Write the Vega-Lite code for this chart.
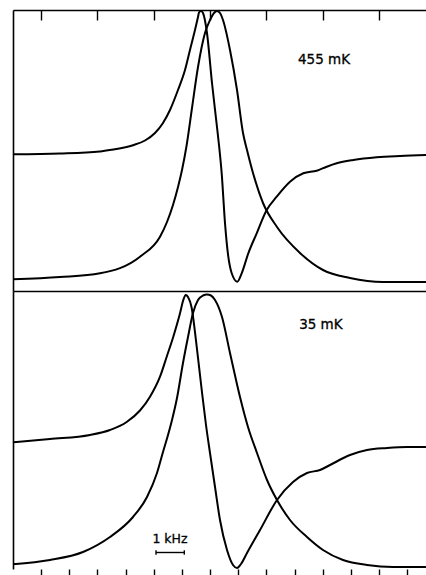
{
  "$schema": "https://vega.github.io/schema/vega-lite/v6.json",
  "background": "white",
  "padding": {"left": 9, "top": 6, "right": 0, "bottom": 0},
  "spacing": 0,
  "bounds": "flush",
  "config": {
    "view": {"stroke": null},
    "axis": {"grid": false, "labels": false, "title": null, "domainColor": "black", "tickColor": "black", "domainWidth": 1.6, "tickWidth": 1.4, "minExtent": 0, "maxExtent": 0, "offset": 0}
  },
  "datasets": {
    "top": [
      {"curve": "D", "f": 0, "v": 136.7}, {"curve": "D", "f": 1.669, "v": 137.5}, {"curve": "D", "f": 3.089, "v": 139.5},
      {"curve": "D", "f": 3.515, "v": 141.3}, {"curve": "D", "f": 4.261, "v": 145.8}, {"curve": "D", "f": 4.687, "v": 150.5},
      {"curve": "D", "f": 5.042, "v": 158}, {"curve": "D", "f": 5.326, "v": 168}, {"curve": "D", "f": 5.574, "v": 181},
      {"curve": "D", "f": 5.858, "v": 201}, {"curve": "D", "f": 6.107, "v": 221}, {"curve": "D", "f": 6.284, "v": 241},
      {"curve": "D", "f": 6.462, "v": 261}, {"curve": "D", "f": 6.569, "v": 274}, {"curve": "D", "f": 6.604, "v": 278.5},
      {"curve": "D", "f": 6.675, "v": 280}, {"curve": "D", "f": 6.746, "v": 278}, {"curve": "D", "f": 6.888, "v": 258},
      {"curve": "D", "f": 7.066, "v": 208}, {"curve": "D", "f": 7.243, "v": 164}, {"curve": "D", "f": 7.314, "v": 146},
      {"curve": "D", "f": 7.41, "v": 117.7}, {"curve": "D", "f": 7.528, "v": 67.7}, {"curve": "D", "f": 7.645, "v": 34.3},
      {"curve": "D", "f": 7.766, "v": 17.7}, {"curve": "D", "f": 7.962, "v": 9.3}, {"curve": "D", "f": 8.12, "v": 17.7},
      {"curve": "D", "f": 8.355, "v": 37.7}, {"curve": "D", "f": 8.653, "v": 57.7}, {"curve": "D", "f": 9.008, "v": 81},
      {"curve": "D", "f": 9.363, "v": 94.3}, {"curve": "D", "f": 9.836, "v": 109.3}, {"curve": "D", "f": 10.308, "v": 117.7},
      {"curve": "D", "f": 10.784, "v": 120.3}, {"curve": "D", "f": 11.139, "v": 124.3}, {"curve": "D", "f": 11.494, "v": 127.7},
      {"curve": "D", "f": 12.083, "v": 131}, {"curve": "D", "f": 12.914, "v": 133.7}, {"curve": "D", "f": 13.742, "v": 135},
      {"curve": "D", "f": 14.7, "v": 136},
      {"curve": "A", "f": 0, "v": 11.7}, {"curve": "A", "f": 1.669, "v": 14}, {"curve": "A", "f": 3.089, "v": 17.7},
      {"curve": "A", "f": 4.509, "v": 34.3}, {"curve": "A", "f": 5.22, "v": 54.3}, {"curve": "A", "f": 5.468, "v": 69},
      {"curve": "A", "f": 5.681, "v": 86}, {"curve": "A", "f": 5.859, "v": 104}, {"curve": "A", "f": 6.001, "v": 121},
      {"curve": "A", "f": 6.161, "v": 145}, {"curve": "A", "f": 6.356, "v": 183}, {"curve": "A", "f": 6.569, "v": 224},
      {"curve": "A", "f": 6.817, "v": 258}, {"curve": "A", "f": 6.995, "v": 271}, {"curve": "A", "f": 7.137, "v": 278},
      {"curve": "A", "f": 7.243, "v": 280}, {"curve": "A", "f": 7.35, "v": 278}, {"curve": "A", "f": 7.456, "v": 271},
      {"curve": "A", "f": 7.705, "v": 241}, {"curve": "A", "f": 7.954, "v": 201}, {"curve": "A", "f": 8.167, "v": 158},
      {"curve": "A", "f": 8.309, "v": 141}, {"curve": "A", "f": 8.522, "v": 118}, {"curve": "A", "f": 8.877, "v": 88},
      {"curve": "A", "f": 9.374, "v": 64}, {"curve": "A", "f": 10.191, "v": 38}, {"curve": "A", "f": 11.007, "v": 21},
      {"curve": "A", "f": 11.966, "v": 13}, {"curve": "A", "f": 13.138, "v": 9}, {"curve": "A", "f": 14.7, "v": 9}
    ],
    "bottom": [
      {"curve": "D", "f": 0, "v": 126.7}, {"curve": "D", "f": 1.314, "v": 130}, {"curve": "D", "f": 2.734, "v": 134},
      {"curve": "D", "f": 3.444, "v": 139}, {"curve": "D", "f": 4.037, "v": 147}, {"curve": "D", "f": 4.509, "v": 158.5},
      {"curve": "D", "f": 4.865, "v": 172.3}, {"curve": "D", "f": 5.22, "v": 192.3}, {"curve": "D", "f": 5.458, "v": 212.3},
      {"curve": "D", "f": 5.692, "v": 232.3}, {"curve": "D", "f": 5.93, "v": 255.7}, {"curve": "D", "f": 6.047, "v": 269},
      {"curve": "D", "f": 6.132, "v": 274}, {"curve": "D", "f": 6.214, "v": 272}, {"curve": "D", "f": 6.338, "v": 262},
      {"curve": "D", "f": 6.516, "v": 224}, {"curve": "D", "f": 6.693, "v": 181}, {"curve": "D", "f": 6.853, "v": 144},
      {"curve": "D", "f": 6.995, "v": 116}, {"curve": "D", "f": 7.173, "v": 82}, {"curve": "D", "f": 7.35, "v": 49},
      {"curve": "D", "f": 7.599, "v": 19}, {"curve": "D", "f": 7.812, "v": 4}, {"curve": "D", "f": 7.954, "v": 1},
      {"curve": "D", "f": 8.096, "v": 5}, {"curve": "D", "f": 8.309, "v": 16}, {"curve": "D", "f": 8.771, "v": 39},
      {"curve": "D", "f": 9.374, "v": 69}, {"curve": "D", "f": 9.942, "v": 87}, {"curve": "D", "f": 10.439, "v": 96},
      {"curve": "D", "f": 10.901, "v": 99}, {"curve": "D", "f": 11.256, "v": 104}, {"curve": "D", "f": 11.966, "v": 114},
      {"curve": "D", "f": 12.57, "v": 119}, {"curve": "D", "f": 13.28, "v": 121}, {"curve": "D", "f": 13.99, "v": 122},
      {"curve": "D", "f": 14.7, "v": 122},
      {"curve": "A", "f": 0, "v": 4.7}, {"curve": "A", "f": 1.314, "v": 9}, {"curve": "A", "f": 2.486, "v": 17},
      {"curve": "A", "f": 3.444, "v": 32}, {"curve": "A", "f": 4.261, "v": 52}, {"curve": "A", "f": 4.758, "v": 72},
      {"curve": "A", "f": 5.113, "v": 96}, {"curve": "A", "f": 5.326, "v": 117}, {"curve": "A", "f": 5.504, "v": 134},
      {"curve": "A", "f": 5.646, "v": 149}, {"curve": "A", "f": 5.823, "v": 171}, {"curve": "A", "f": 6.036, "v": 206},
      {"curve": "A", "f": 6.214, "v": 232}, {"curve": "A", "f": 6.391, "v": 256}, {"curve": "A", "f": 6.569, "v": 269},
      {"curve": "A", "f": 6.746, "v": 273.5}, {"curve": "A", "f": 6.888, "v": 274.5}, {"curve": "A", "f": 7.03, "v": 273.5},
      {"curve": "A", "f": 7.173, "v": 269}, {"curve": "A", "f": 7.421, "v": 252}, {"curve": "A", "f": 7.705, "v": 216},
      {"curve": "A", "f": 8.06, "v": 172}, {"curve": "A", "f": 8.344, "v": 142}, {"curve": "A", "f": 8.664, "v": 116},
      {"curve": "A", "f": 9.019, "v": 89}, {"curve": "A", "f": 9.374, "v": 69}, {"curve": "A", "f": 9.836, "v": 49},
      {"curve": "A", "f": 10.439, "v": 32}, {"curve": "A", "f": 11.007, "v": 19}, {"curve": "A", "f": 11.718, "v": 9},
      {"curve": "A", "f": 12.57, "v": 4}, {"curve": "A", "f": 13.493, "v": 2}, {"curve": "A", "f": 14.7, "v": 2}
    ]
  },
  "vconcat": [
    {
      "width": 414,
      "height": 281,
      "layer": [
        {
          "data": {"name": "top"},
          "mark": {"type": "line", "color": "black", "strokeWidth": 2, "interpolate": "monotone"},
          "encoding": {
            "x": {"field": "f", "type": "quantitative", "scale": {"domain": [0, 14.7], "nice": false, "zero": false},
                  "axis": {"orient": "top", "values": [1,2,3,4,5,6,7,8,9,10,11,12,13,14], "tickSize": -10, "labels": false, "title": null}},
            "y": {"field": "v", "type": "quantitative", "scale": {"domain": [0, 281], "nice": false, "zero": false},
                  "axis": {"orient": "left", "ticks": false, "labels": false, "title": null}},
            "detail": {"field": "curve"}
          }
        },
        {
          "data": {"values": [{"label": "455 mK", "f": 10.12, "v": 226.7}]},
          "mark": {"type": "text", "align": "left", "baseline": "alphabetic", "font": "DejaVu Sans", "fontSize": 13.5, "color": "black", "stroke": "black", "strokeWidth": 0.3},
          "encoding": {
            "x": {"field": "f", "type": "quantitative"},
            "y": {"field": "v", "type": "quantitative"},
            "text": {"field": "label"}
          }
        }
      ]
    },
    {
      "width": 414,
      "height": 278,
      "resolve": {"axis": {"x": "independent"}},
      "layer": [
        {
          "data": {"name": "bottom"},
          "mark": {"type": "line", "color": "black", "strokeWidth": 2, "interpolate": "monotone"},
          "encoding": {
            "x": {"field": "f", "type": "quantitative", "scale": {"domain": [0, 14.7], "nice": false, "zero": false},
                  "axis": {"orient": "top", "ticks": false, "labels": false, "title": null}},
            "y": {"field": "v", "type": "quantitative", "scale": {"domain": [0, 278], "nice": false, "zero": false},
                  "axis": {"orient": "left", "ticks": false, "labels": false, "title": null}},
            "detail": {"field": "curve"}
          }
        },
        {
          "data": {"values": [{"f": 5.078, "f2": 6.083, "v": 16.5}]},
          "mark": {"type": "rule", "color": "black", "strokeWidth": 1.4},
          "encoding": {
            "x": {"field": "f", "type": "quantitative",
                  "axis": {"orient": "bottom", "values": [1,2,3,4,5,6,7,8,9,10,11,12,13,14], "tickSize": 7, "domain": false, "labels": false, "title": null}},
            "x2": {"field": "f2"},
            "y": {"field": "v", "type": "quantitative"}
          }
        },
        {
          "data": {"values": [{"f": 5.078, "v": 14.3, "v2": 18.7}, {"f": 6.083, "v": 14.3, "v2": 18.7}]},
          "mark": {"type": "rule", "color": "black", "strokeWidth": 1.4},
          "encoding": {
            "x": {"field": "f", "type": "quantitative", "axis": null},
            "y": {"field": "v", "type": "quantitative"},
            "y2": {"field": "v2"}
          }
        },
        {
          "data": {"values": [{"label": "35 mK", "f": 10.16, "v": 239.7}]},
          "mark": {"type": "text", "align": "left", "baseline": "alphabetic", "font": "DejaVu Sans", "fontSize": 13.5, "color": "black", "stroke": "black", "strokeWidth": 0.3},
          "encoding": {
            "x": {"field": "f", "type": "quantitative", "axis": null},
            "y": {"field": "v", "type": "quantitative"},
            "text": {"field": "label"}
          }
        },
        {
          "data": {"values": [{"label": "1 kHz", "f": 5.575, "v": 26}]},
          "mark": {"type": "text", "align": "center", "baseline": "alphabetic", "font": "DejaVu Sans", "fontSize": 12.5, "color": "black", "stroke": "black", "strokeWidth": 0.3},
          "encoding": {
            "x": {"field": "f", "type": "quantitative", "axis": null},
            "y": {"field": "v", "type": "quantitative"},
            "text": {"field": "label"}
          }
        }
      ]
    }
  ]
}
